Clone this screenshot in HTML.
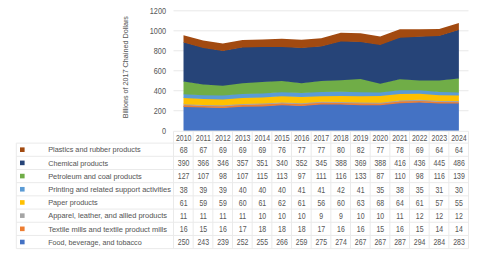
<!DOCTYPE html>
<html><head><meta charset="utf-8"><style>
html,body{margin:0;padding:0;background:#fff;width:480px;height:254px;overflow:hidden}
svg{display:block}
.t{font-family:"Liberation Sans",sans-serif;font-size:8.4px;fill:#5A5A5A;stroke:#5A5A5A;stroke-width:0.05px}
</style></head><body>
<svg width="480" height="254" viewBox="0 0 480 254">
<rect width="480" height="254" fill="#fff"/>
<line x1="173.5" y1="110.72" x2="468.5" y2="110.72" stroke="#E8E8E8" stroke-width="1"/>
<line x1="173.5" y1="90.74" x2="468.5" y2="90.74" stroke="#E8E8E8" stroke-width="1"/>
<line x1="173.5" y1="70.76" x2="468.5" y2="70.76" stroke="#E8E8E8" stroke-width="1"/>
<line x1="173.5" y1="50.78" x2="468.5" y2="50.78" stroke="#E8E8E8" stroke-width="1"/>
<line x1="173.5" y1="30.80" x2="468.5" y2="30.80" stroke="#E8E8E8" stroke-width="1"/>
<line x1="173.5" y1="10.82" x2="468.5" y2="10.82" stroke="#E8E8E8" stroke-width="1"/>
<clipPath id="pc"><rect x="0" y="0" width="480" height="130.8"/></clipPath><g clip-path="url(#pc)">
<polygon points="183.50,106.30 203.17,107.00 222.84,107.40 242.51,106.10 262.18,105.80 281.85,104.70 301.52,105.40 321.19,103.80 340.86,103.90 360.53,104.60 380.20,104.60 399.87,102.60 419.54,101.90 439.21,102.90 458.88,103.00 458.88,131.30 439.21,131.30 419.54,131.30 399.87,131.30 380.20,131.30 360.53,131.30 340.86,131.30 321.19,131.30 301.52,131.30 281.85,131.30 262.18,131.30 242.51,131.30 222.84,131.30 203.17,131.30 183.50,131.30" fill="#4472C4"/>
<polygon points="183.50,104.70 203.17,105.50 222.84,105.80 242.51,104.40 262.18,104.00 281.85,102.90 301.52,103.60 321.19,102.10 340.86,102.30 360.53,103.00 380.20,103.10 399.87,101.00 419.54,100.40 439.21,101.50 458.88,101.60 458.88,103.60 439.21,103.50 419.54,102.50 399.87,103.20 380.20,105.20 360.53,105.20 340.86,104.50 321.19,104.40 301.52,106.00 281.85,105.30 262.18,106.40 242.51,106.70 222.84,108.00 203.17,107.60 183.50,106.90" fill="#ED7D31"/>
<polygon points="183.50,103.60 203.17,104.40 222.84,104.70 242.51,103.30 262.18,103.00 281.85,101.90 301.52,102.60 321.19,101.20 340.86,101.40 360.53,102.00 380.20,102.10 399.87,99.90 419.54,99.20 439.21,100.30 458.88,100.40 458.88,102.20 439.21,102.10 419.54,101.00 399.87,101.60 380.20,103.70 360.53,103.60 340.86,102.90 321.19,102.70 301.52,104.20 281.85,103.50 262.18,104.60 242.51,105.00 222.84,106.40 203.17,106.10 183.50,105.30" fill="#A5A5A5"/>
<polygon points="183.50,97.50 203.17,98.50 222.84,98.80 242.51,97.30 262.18,96.90 281.85,95.70 301.52,96.50 321.19,95.60 340.86,95.40 360.53,95.70 380.20,95.30 399.87,93.50 419.54,93.10 439.21,94.60 458.88,94.90 458.88,101.00 439.21,100.90 419.54,99.80 399.87,100.50 380.20,102.70 360.53,102.60 340.86,102.00 321.19,101.80 301.52,103.20 281.85,102.50 262.18,103.60 242.51,103.90 222.84,105.30 203.17,105.00 183.50,104.20" fill="#FFC000"/>
<polygon points="183.50,93.70 203.17,94.60 222.84,94.90 242.51,93.30 262.18,92.90 281.85,91.70 301.52,92.40 321.19,91.50 340.86,91.20 360.53,91.60 380.20,91.80 399.87,89.70 419.54,89.60 439.21,91.50 458.88,91.90 458.88,95.50 439.21,95.20 419.54,93.70 399.87,94.10 380.20,95.90 360.53,96.30 340.86,96.00 321.19,96.20 301.52,97.10 281.85,96.30 262.18,97.50 242.51,97.90 222.84,99.40 203.17,99.10 183.50,98.10" fill="#5B9BD5"/>
<polygon points="183.50,81.00 203.17,83.90 222.84,85.10 242.51,82.60 262.18,81.40 281.85,80.40 301.52,82.70 321.19,80.40 340.86,79.60 360.53,78.30 380.20,83.10 399.87,78.70 419.54,79.80 439.21,79.90 458.88,78.00 458.88,92.50 439.21,92.10 419.54,90.20 399.87,90.30 380.20,92.40 360.53,92.20 340.86,91.80 321.19,92.10 301.52,93.00 281.85,92.30 262.18,93.50 242.51,93.90 222.84,95.50 203.17,95.20 183.50,94.30" fill="#70AD47"/>
<polygon points="183.50,42.00 203.17,47.30 222.84,50.50 242.51,46.90 262.18,46.30 281.85,46.40 301.52,47.50 321.19,45.90 340.86,40.80 360.53,41.40 380.20,44.30 399.87,37.10 419.54,36.20 439.21,35.40 458.88,29.40 458.88,78.60 439.21,80.50 419.54,80.40 399.87,79.30 380.20,83.70 360.53,78.90 340.86,80.20 321.19,81.00 301.52,83.30 281.85,81.00 262.18,82.00 242.51,83.20 222.84,85.70 203.17,84.50 183.50,81.60" fill="#264478"/>
<polygon points="183.50,35.20 203.17,40.60 222.84,43.60 242.51,40.00 262.18,39.40 281.85,38.80 301.52,39.80 321.19,38.20 340.86,32.80 360.53,33.20 380.20,36.60 399.87,29.30 419.54,29.30 439.21,29.00 458.88,23.00 458.88,30.00 439.21,36.00 419.54,36.80 399.87,37.70 380.20,44.90 360.53,42.00 340.86,41.40 321.19,46.50 301.52,48.10 281.85,47.00 262.18,46.90 242.51,47.50 222.84,51.10 203.17,47.90 183.50,42.60" fill="#A24A10"/>
</g>
<text x="0" y="0" text-anchor="end" class="t" transform="translate(166.00,133.50) scale(0.87,1)">0</text>
<text x="0" y="0" text-anchor="end" class="t" transform="translate(166.00,113.52) scale(0.87,1)">200</text>
<text x="0" y="0" text-anchor="end" class="t" transform="translate(166.00,93.54) scale(0.87,1)">400</text>
<text x="0" y="0" text-anchor="end" class="t" transform="translate(166.00,73.56) scale(0.87,1)">600</text>
<text x="0" y="0" text-anchor="end" class="t" transform="translate(166.00,53.58) scale(0.87,1)">800</text>
<text x="0" y="0" text-anchor="end" class="t" transform="translate(166.00,33.60) scale(0.87,1)">1000</text>
<text x="0" y="0" text-anchor="end" class="t" transform="translate(166.00,13.62) scale(0.87,1)">1200</text>
<text x="0" y="0" text-anchor="middle" class="t" style="font-size:7.5px" transform="translate(128.2,67.2) rotate(-90)" textLength="102.2" lengthAdjust="spacingAndGlyphs">Billions of 2017 Chained Dollars</text>
<line x1="173.5" y1="131.3" x2="468.5" y2="131.3" stroke="#EAEAEA" stroke-width="1"/>
<line x1="173.50" y1="131.3" x2="173.50" y2="248.62" stroke="#EAEAEA" stroke-width="1"/>
<line x1="193.17" y1="131.3" x2="193.17" y2="248.62" stroke="#EAEAEA" stroke-width="1"/>
<line x1="212.83" y1="131.3" x2="212.83" y2="248.62" stroke="#EAEAEA" stroke-width="1"/>
<line x1="232.50" y1="131.3" x2="232.50" y2="248.62" stroke="#EAEAEA" stroke-width="1"/>
<line x1="252.17" y1="131.3" x2="252.17" y2="248.62" stroke="#EAEAEA" stroke-width="1"/>
<line x1="271.83" y1="131.3" x2="271.83" y2="248.62" stroke="#EAEAEA" stroke-width="1"/>
<line x1="291.50" y1="131.3" x2="291.50" y2="248.62" stroke="#EAEAEA" stroke-width="1"/>
<line x1="311.17" y1="131.3" x2="311.17" y2="248.62" stroke="#EAEAEA" stroke-width="1"/>
<line x1="330.83" y1="131.3" x2="330.83" y2="248.62" stroke="#EAEAEA" stroke-width="1"/>
<line x1="350.50" y1="131.3" x2="350.50" y2="248.62" stroke="#EAEAEA" stroke-width="1"/>
<line x1="370.17" y1="131.3" x2="370.17" y2="248.62" stroke="#EAEAEA" stroke-width="1"/>
<line x1="389.83" y1="131.3" x2="389.83" y2="248.62" stroke="#EAEAEA" stroke-width="1"/>
<line x1="409.50" y1="131.3" x2="409.50" y2="248.62" stroke="#EAEAEA" stroke-width="1"/>
<line x1="429.17" y1="131.3" x2="429.17" y2="248.62" stroke="#EAEAEA" stroke-width="1"/>
<line x1="448.83" y1="131.3" x2="448.83" y2="248.62" stroke="#EAEAEA" stroke-width="1"/>
<line x1="468.50" y1="131.3" x2="468.50" y2="248.62" stroke="#EAEAEA" stroke-width="1"/>
<line x1="16.3" y1="143.10" x2="468.5" y2="143.10" stroke="#EAEAEA" stroke-width="1"/>
<line x1="16.3" y1="156.29" x2="468.5" y2="156.29" stroke="#EAEAEA" stroke-width="1"/>
<line x1="16.3" y1="169.48" x2="468.5" y2="169.48" stroke="#EAEAEA" stroke-width="1"/>
<line x1="16.3" y1="182.67" x2="468.5" y2="182.67" stroke="#EAEAEA" stroke-width="1"/>
<line x1="16.3" y1="195.86" x2="468.5" y2="195.86" stroke="#EAEAEA" stroke-width="1"/>
<line x1="16.3" y1="209.05" x2="468.5" y2="209.05" stroke="#EAEAEA" stroke-width="1"/>
<line x1="16.3" y1="222.24" x2="468.5" y2="222.24" stroke="#EAEAEA" stroke-width="1"/>
<line x1="16.3" y1="235.43" x2="468.5" y2="235.43" stroke="#EAEAEA" stroke-width="1"/>
<line x1="16.3" y1="248.62" x2="468.5" y2="248.62" stroke="#EAEAEA" stroke-width="1"/>
<line x1="16.3" y1="143.1" x2="16.3" y2="248.62" stroke="#EAEAEA" stroke-width="1"/>
<text x="0" y="0" text-anchor="middle" class="t" transform="translate(183.63,140.70) scale(0.83,1)">2010</text>
<text x="0" y="0" text-anchor="middle" class="t" transform="translate(203.30,140.70) scale(0.83,1)">2011</text>
<text x="0" y="0" text-anchor="middle" class="t" transform="translate(222.97,140.70) scale(0.83,1)">2012</text>
<text x="0" y="0" text-anchor="middle" class="t" transform="translate(242.63,140.70) scale(0.83,1)">2013</text>
<text x="0" y="0" text-anchor="middle" class="t" transform="translate(262.30,140.70) scale(0.83,1)">2014</text>
<text x="0" y="0" text-anchor="middle" class="t" transform="translate(281.97,140.70) scale(0.83,1)">2015</text>
<text x="0" y="0" text-anchor="middle" class="t" transform="translate(301.63,140.70) scale(0.83,1)">2016</text>
<text x="0" y="0" text-anchor="middle" class="t" transform="translate(321.30,140.70) scale(0.83,1)">2017</text>
<text x="0" y="0" text-anchor="middle" class="t" transform="translate(340.97,140.70) scale(0.83,1)">2018</text>
<text x="0" y="0" text-anchor="middle" class="t" transform="translate(360.63,140.70) scale(0.83,1)">2019</text>
<text x="0" y="0" text-anchor="middle" class="t" transform="translate(380.30,140.70) scale(0.83,1)">2020</text>
<text x="0" y="0" text-anchor="middle" class="t" transform="translate(399.97,140.70) scale(0.83,1)">2021</text>
<text x="0" y="0" text-anchor="middle" class="t" transform="translate(419.63,140.70) scale(0.83,1)">2022</text>
<text x="0" y="0" text-anchor="middle" class="t" transform="translate(439.30,140.70) scale(0.83,1)">2023</text>
<text x="0" y="0" text-anchor="middle" class="t" transform="translate(458.97,140.70) scale(0.83,1)">2024</text>
<rect x="20.0" y="147.39" width="4.6" height="4.6" fill="#A24A10"/>
<text x="48.20" y="152.44" class="t" style="font-size:7.5px" textLength="92.4" lengthAdjust="spacingAndGlyphs">Plastics and rubber products</text>
<text x="0" y="0" text-anchor="middle" class="t" transform="translate(183.63,152.94) scale(0.83,1)">68</text>
<text x="0" y="0" text-anchor="middle" class="t" transform="translate(203.30,152.94) scale(0.83,1)">67</text>
<text x="0" y="0" text-anchor="middle" class="t" transform="translate(222.97,152.94) scale(0.83,1)">69</text>
<text x="0" y="0" text-anchor="middle" class="t" transform="translate(242.63,152.94) scale(0.83,1)">69</text>
<text x="0" y="0" text-anchor="middle" class="t" transform="translate(262.30,152.94) scale(0.83,1)">69</text>
<text x="0" y="0" text-anchor="middle" class="t" transform="translate(281.97,152.94) scale(0.83,1)">76</text>
<text x="0" y="0" text-anchor="middle" class="t" transform="translate(301.63,152.94) scale(0.83,1)">77</text>
<text x="0" y="0" text-anchor="middle" class="t" transform="translate(321.30,152.94) scale(0.83,1)">77</text>
<text x="0" y="0" text-anchor="middle" class="t" transform="translate(340.97,152.94) scale(0.83,1)">80</text>
<text x="0" y="0" text-anchor="middle" class="t" transform="translate(360.63,152.94) scale(0.83,1)">82</text>
<text x="0" y="0" text-anchor="middle" class="t" transform="translate(380.30,152.94) scale(0.83,1)">77</text>
<text x="0" y="0" text-anchor="middle" class="t" transform="translate(399.97,152.94) scale(0.83,1)">78</text>
<text x="0" y="0" text-anchor="middle" class="t" transform="translate(419.63,152.94) scale(0.83,1)">69</text>
<text x="0" y="0" text-anchor="middle" class="t" transform="translate(439.30,152.94) scale(0.83,1)">64</text>
<text x="0" y="0" text-anchor="middle" class="t" transform="translate(458.97,152.94) scale(0.83,1)">64</text>
<rect x="20.0" y="160.58" width="4.6" height="4.6" fill="#264478"/>
<text x="48.20" y="165.63" class="t" style="font-size:7.5px" textLength="59.9" lengthAdjust="spacingAndGlyphs">Chemical products</text>
<text x="0" y="0" text-anchor="middle" class="t" transform="translate(183.63,166.13) scale(0.83,1)">390</text>
<text x="0" y="0" text-anchor="middle" class="t" transform="translate(203.30,166.13) scale(0.83,1)">366</text>
<text x="0" y="0" text-anchor="middle" class="t" transform="translate(222.97,166.13) scale(0.83,1)">346</text>
<text x="0" y="0" text-anchor="middle" class="t" transform="translate(242.63,166.13) scale(0.83,1)">357</text>
<text x="0" y="0" text-anchor="middle" class="t" transform="translate(262.30,166.13) scale(0.83,1)">351</text>
<text x="0" y="0" text-anchor="middle" class="t" transform="translate(281.97,166.13) scale(0.83,1)">340</text>
<text x="0" y="0" text-anchor="middle" class="t" transform="translate(301.63,166.13) scale(0.83,1)">352</text>
<text x="0" y="0" text-anchor="middle" class="t" transform="translate(321.30,166.13) scale(0.83,1)">345</text>
<text x="0" y="0" text-anchor="middle" class="t" transform="translate(340.97,166.13) scale(0.83,1)">388</text>
<text x="0" y="0" text-anchor="middle" class="t" transform="translate(360.63,166.13) scale(0.83,1)">369</text>
<text x="0" y="0" text-anchor="middle" class="t" transform="translate(380.30,166.13) scale(0.83,1)">388</text>
<text x="0" y="0" text-anchor="middle" class="t" transform="translate(399.97,166.13) scale(0.83,1)">416</text>
<text x="0" y="0" text-anchor="middle" class="t" transform="translate(419.63,166.13) scale(0.83,1)">436</text>
<text x="0" y="0" text-anchor="middle" class="t" transform="translate(439.30,166.13) scale(0.83,1)">445</text>
<text x="0" y="0" text-anchor="middle" class="t" transform="translate(458.97,166.13) scale(0.83,1)">486</text>
<rect x="20.0" y="173.77" width="4.6" height="4.6" fill="#70AD47"/>
<text x="48.20" y="178.82" class="t" style="font-size:7.5px" textLength="93.5" lengthAdjust="spacingAndGlyphs">Petroleum and coal products</text>
<text x="0" y="0" text-anchor="middle" class="t" transform="translate(183.63,179.32) scale(0.83,1)">127</text>
<text x="0" y="0" text-anchor="middle" class="t" transform="translate(203.30,179.32) scale(0.83,1)">107</text>
<text x="0" y="0" text-anchor="middle" class="t" transform="translate(222.97,179.32) scale(0.83,1)">98</text>
<text x="0" y="0" text-anchor="middle" class="t" transform="translate(242.63,179.32) scale(0.83,1)">107</text>
<text x="0" y="0" text-anchor="middle" class="t" transform="translate(262.30,179.32) scale(0.83,1)">115</text>
<text x="0" y="0" text-anchor="middle" class="t" transform="translate(281.97,179.32) scale(0.83,1)">113</text>
<text x="0" y="0" text-anchor="middle" class="t" transform="translate(301.63,179.32) scale(0.83,1)">97</text>
<text x="0" y="0" text-anchor="middle" class="t" transform="translate(321.30,179.32) scale(0.83,1)">111</text>
<text x="0" y="0" text-anchor="middle" class="t" transform="translate(340.97,179.32) scale(0.83,1)">116</text>
<text x="0" y="0" text-anchor="middle" class="t" transform="translate(360.63,179.32) scale(0.83,1)">133</text>
<text x="0" y="0" text-anchor="middle" class="t" transform="translate(380.30,179.32) scale(0.83,1)">87</text>
<text x="0" y="0" text-anchor="middle" class="t" transform="translate(399.97,179.32) scale(0.83,1)">110</text>
<text x="0" y="0" text-anchor="middle" class="t" transform="translate(419.63,179.32) scale(0.83,1)">98</text>
<text x="0" y="0" text-anchor="middle" class="t" transform="translate(439.30,179.32) scale(0.83,1)">116</text>
<text x="0" y="0" text-anchor="middle" class="t" transform="translate(458.97,179.32) scale(0.83,1)">139</text>
<rect x="20.0" y="186.96" width="4.6" height="4.6" fill="#5B9BD5"/>
<text x="48.20" y="192.01" class="t" style="font-size:7.5px" textLength="122.7" lengthAdjust="spacingAndGlyphs">Printing and related support activities</text>
<text x="0" y="0" text-anchor="middle" class="t" transform="translate(183.63,192.51) scale(0.83,1)">38</text>
<text x="0" y="0" text-anchor="middle" class="t" transform="translate(203.30,192.51) scale(0.83,1)">39</text>
<text x="0" y="0" text-anchor="middle" class="t" transform="translate(222.97,192.51) scale(0.83,1)">39</text>
<text x="0" y="0" text-anchor="middle" class="t" transform="translate(242.63,192.51) scale(0.83,1)">40</text>
<text x="0" y="0" text-anchor="middle" class="t" transform="translate(262.30,192.51) scale(0.83,1)">40</text>
<text x="0" y="0" text-anchor="middle" class="t" transform="translate(281.97,192.51) scale(0.83,1)">40</text>
<text x="0" y="0" text-anchor="middle" class="t" transform="translate(301.63,192.51) scale(0.83,1)">41</text>
<text x="0" y="0" text-anchor="middle" class="t" transform="translate(321.30,192.51) scale(0.83,1)">41</text>
<text x="0" y="0" text-anchor="middle" class="t" transform="translate(340.97,192.51) scale(0.83,1)">42</text>
<text x="0" y="0" text-anchor="middle" class="t" transform="translate(360.63,192.51) scale(0.83,1)">41</text>
<text x="0" y="0" text-anchor="middle" class="t" transform="translate(380.30,192.51) scale(0.83,1)">35</text>
<text x="0" y="0" text-anchor="middle" class="t" transform="translate(399.97,192.51) scale(0.83,1)">38</text>
<text x="0" y="0" text-anchor="middle" class="t" transform="translate(419.63,192.51) scale(0.83,1)">35</text>
<text x="0" y="0" text-anchor="middle" class="t" transform="translate(439.30,192.51) scale(0.83,1)">31</text>
<text x="0" y="0" text-anchor="middle" class="t" transform="translate(458.97,192.51) scale(0.83,1)">30</text>
<rect x="20.0" y="200.15" width="4.6" height="4.6" fill="#FFC000"/>
<text x="48.20" y="205.20" class="t" style="font-size:7.5px" textLength="49.5" lengthAdjust="spacingAndGlyphs">Paper products</text>
<text x="0" y="0" text-anchor="middle" class="t" transform="translate(183.63,205.70) scale(0.83,1)">61</text>
<text x="0" y="0" text-anchor="middle" class="t" transform="translate(203.30,205.70) scale(0.83,1)">59</text>
<text x="0" y="0" text-anchor="middle" class="t" transform="translate(222.97,205.70) scale(0.83,1)">59</text>
<text x="0" y="0" text-anchor="middle" class="t" transform="translate(242.63,205.70) scale(0.83,1)">60</text>
<text x="0" y="0" text-anchor="middle" class="t" transform="translate(262.30,205.70) scale(0.83,1)">61</text>
<text x="0" y="0" text-anchor="middle" class="t" transform="translate(281.97,205.70) scale(0.83,1)">62</text>
<text x="0" y="0" text-anchor="middle" class="t" transform="translate(301.63,205.70) scale(0.83,1)">61</text>
<text x="0" y="0" text-anchor="middle" class="t" transform="translate(321.30,205.70) scale(0.83,1)">56</text>
<text x="0" y="0" text-anchor="middle" class="t" transform="translate(340.97,205.70) scale(0.83,1)">60</text>
<text x="0" y="0" text-anchor="middle" class="t" transform="translate(360.63,205.70) scale(0.83,1)">63</text>
<text x="0" y="0" text-anchor="middle" class="t" transform="translate(380.30,205.70) scale(0.83,1)">68</text>
<text x="0" y="0" text-anchor="middle" class="t" transform="translate(399.97,205.70) scale(0.83,1)">64</text>
<text x="0" y="0" text-anchor="middle" class="t" transform="translate(419.63,205.70) scale(0.83,1)">61</text>
<text x="0" y="0" text-anchor="middle" class="t" transform="translate(439.30,205.70) scale(0.83,1)">57</text>
<text x="0" y="0" text-anchor="middle" class="t" transform="translate(458.97,205.70) scale(0.83,1)">55</text>
<rect x="20.0" y="213.34" width="4.6" height="4.6" fill="#A5A5A5"/>
<text x="48.20" y="218.39" class="t" style="font-size:7.5px" textLength="118.8" lengthAdjust="spacingAndGlyphs">Apparel, leather, and allied products</text>
<text x="0" y="0" text-anchor="middle" class="t" transform="translate(183.63,218.89) scale(0.83,1)">11</text>
<text x="0" y="0" text-anchor="middle" class="t" transform="translate(203.30,218.89) scale(0.83,1)">11</text>
<text x="0" y="0" text-anchor="middle" class="t" transform="translate(222.97,218.89) scale(0.83,1)">11</text>
<text x="0" y="0" text-anchor="middle" class="t" transform="translate(242.63,218.89) scale(0.83,1)">11</text>
<text x="0" y="0" text-anchor="middle" class="t" transform="translate(262.30,218.89) scale(0.83,1)">10</text>
<text x="0" y="0" text-anchor="middle" class="t" transform="translate(281.97,218.89) scale(0.83,1)">10</text>
<text x="0" y="0" text-anchor="middle" class="t" transform="translate(301.63,218.89) scale(0.83,1)">10</text>
<text x="0" y="0" text-anchor="middle" class="t" transform="translate(321.30,218.89) scale(0.83,1)">9</text>
<text x="0" y="0" text-anchor="middle" class="t" transform="translate(340.97,218.89) scale(0.83,1)">9</text>
<text x="0" y="0" text-anchor="middle" class="t" transform="translate(360.63,218.89) scale(0.83,1)">10</text>
<text x="0" y="0" text-anchor="middle" class="t" transform="translate(380.30,218.89) scale(0.83,1)">10</text>
<text x="0" y="0" text-anchor="middle" class="t" transform="translate(399.97,218.89) scale(0.83,1)">11</text>
<text x="0" y="0" text-anchor="middle" class="t" transform="translate(419.63,218.89) scale(0.83,1)">12</text>
<text x="0" y="0" text-anchor="middle" class="t" transform="translate(439.30,218.89) scale(0.83,1)">12</text>
<text x="0" y="0" text-anchor="middle" class="t" transform="translate(458.97,218.89) scale(0.83,1)">12</text>
<rect x="20.0" y="226.53" width="4.6" height="4.6" fill="#ED7D31"/>
<text x="48.20" y="231.58" class="t" style="font-size:7.5px" textLength="118.8" lengthAdjust="spacingAndGlyphs">Textile mills and textile product mills</text>
<text x="0" y="0" text-anchor="middle" class="t" transform="translate(183.63,232.08) scale(0.83,1)">16</text>
<text x="0" y="0" text-anchor="middle" class="t" transform="translate(203.30,232.08) scale(0.83,1)">15</text>
<text x="0" y="0" text-anchor="middle" class="t" transform="translate(222.97,232.08) scale(0.83,1)">16</text>
<text x="0" y="0" text-anchor="middle" class="t" transform="translate(242.63,232.08) scale(0.83,1)">17</text>
<text x="0" y="0" text-anchor="middle" class="t" transform="translate(262.30,232.08) scale(0.83,1)">18</text>
<text x="0" y="0" text-anchor="middle" class="t" transform="translate(281.97,232.08) scale(0.83,1)">18</text>
<text x="0" y="0" text-anchor="middle" class="t" transform="translate(301.63,232.08) scale(0.83,1)">18</text>
<text x="0" y="0" text-anchor="middle" class="t" transform="translate(321.30,232.08) scale(0.83,1)">17</text>
<text x="0" y="0" text-anchor="middle" class="t" transform="translate(340.97,232.08) scale(0.83,1)">16</text>
<text x="0" y="0" text-anchor="middle" class="t" transform="translate(360.63,232.08) scale(0.83,1)">16</text>
<text x="0" y="0" text-anchor="middle" class="t" transform="translate(380.30,232.08) scale(0.83,1)">15</text>
<text x="0" y="0" text-anchor="middle" class="t" transform="translate(399.97,232.08) scale(0.83,1)">16</text>
<text x="0" y="0" text-anchor="middle" class="t" transform="translate(419.63,232.08) scale(0.83,1)">15</text>
<text x="0" y="0" text-anchor="middle" class="t" transform="translate(439.30,232.08) scale(0.83,1)">14</text>
<text x="0" y="0" text-anchor="middle" class="t" transform="translate(458.97,232.08) scale(0.83,1)">14</text>
<rect x="20.0" y="239.72" width="4.6" height="4.6" fill="#4472C4"/>
<text x="48.20" y="244.77" class="t" style="font-size:7.5px" textLength="93.5" lengthAdjust="spacingAndGlyphs">Food, beverage, and tobacco</text>
<text x="0" y="0" text-anchor="middle" class="t" transform="translate(183.63,245.27) scale(0.83,1)">250</text>
<text x="0" y="0" text-anchor="middle" class="t" transform="translate(203.30,245.27) scale(0.83,1)">243</text>
<text x="0" y="0" text-anchor="middle" class="t" transform="translate(222.97,245.27) scale(0.83,1)">239</text>
<text x="0" y="0" text-anchor="middle" class="t" transform="translate(242.63,245.27) scale(0.83,1)">252</text>
<text x="0" y="0" text-anchor="middle" class="t" transform="translate(262.30,245.27) scale(0.83,1)">255</text>
<text x="0" y="0" text-anchor="middle" class="t" transform="translate(281.97,245.27) scale(0.83,1)">266</text>
<text x="0" y="0" text-anchor="middle" class="t" transform="translate(301.63,245.27) scale(0.83,1)">259</text>
<text x="0" y="0" text-anchor="middle" class="t" transform="translate(321.30,245.27) scale(0.83,1)">275</text>
<text x="0" y="0" text-anchor="middle" class="t" transform="translate(340.97,245.27) scale(0.83,1)">274</text>
<text x="0" y="0" text-anchor="middle" class="t" transform="translate(360.63,245.27) scale(0.83,1)">267</text>
<text x="0" y="0" text-anchor="middle" class="t" transform="translate(380.30,245.27) scale(0.83,1)">267</text>
<text x="0" y="0" text-anchor="middle" class="t" transform="translate(399.97,245.27) scale(0.83,1)">287</text>
<text x="0" y="0" text-anchor="middle" class="t" transform="translate(419.63,245.27) scale(0.83,1)">294</text>
<text x="0" y="0" text-anchor="middle" class="t" transform="translate(439.30,245.27) scale(0.83,1)">284</text>
<text x="0" y="0" text-anchor="middle" class="t" transform="translate(458.97,245.27) scale(0.83,1)">283</text>
</svg>
</body></html>
